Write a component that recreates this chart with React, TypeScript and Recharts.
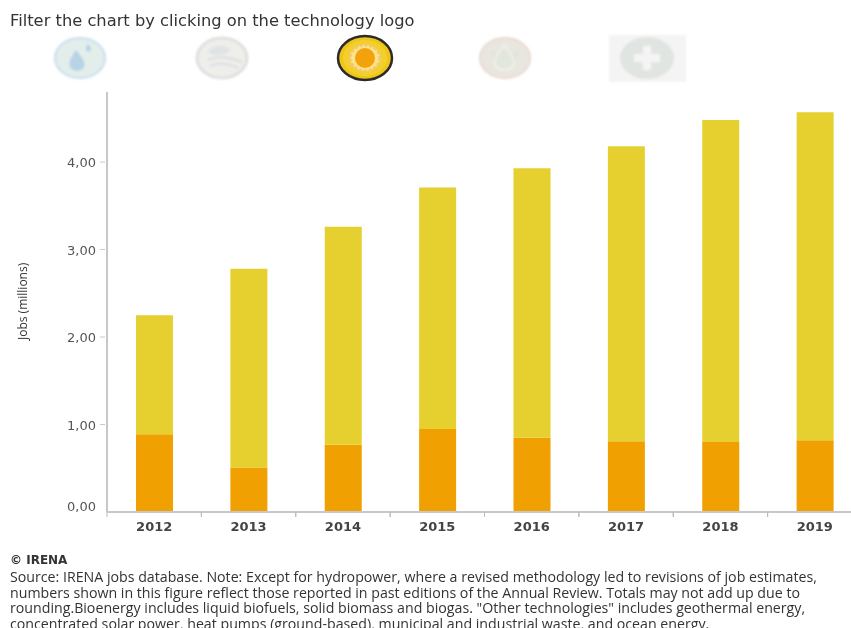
import { BarChart, Bar, XAxis, YAxis } from "recharts"

const years = ["2012", "2013", "2014", "2015", "2016", "2017", "2018", "2019"]
const lowerValues = [0.89, 0.51, 0.77, 0.95, 0.85, 0.81, 0.8, 0.82]
const upperValues = [1.36, 2.27, 2.49, 2.76, 3.08, 3.37, 3.68, 3.75]
const yTicks = [0, 1, 2, 3, 4]

const title = "Filter the chart by clicking on the technology logo"
const credit = "© IRENA"
const sourceLines = [
  "Source: IRENA jobs database. Note: Except for hydropower, where a revised methodology led to revisions of job estimates,",
  "numbers shown in this figure reflect those reported in past editions of the Annual Review. Totals may not add up due to",
  'rounding.Bioenergy includes liquid biofuels, solid biomass and biogas. "Other technologies" includes geothermal energy,',
  "concentrated solar power, heat pumps (ground-based), municipal and industrial waste, and ocean energy.",
]

const data = years.map((year, i) => ({ year, lower: lowerValues[i], upper: upperValues[i] }))

const plotWidth = 755
const halfBand = plotWidth / years.length / 2
const softText = "blur(0.35px)"

function YearTick({ x, y, payload }: any) {
  return (
    <g>
      <line x1={x - halfBand} x2={x - halfBand} y1={y - 8} y2={y - 3} stroke="#bbb" />
      <line x1={x + halfBand} x2={x + halfBand} y1={y - 8} y2={y - 3} stroke="#bbb" />
      <text x={x} y={y + 11} textAnchor="middle" fontFamily="DejaVu Sans" fontWeight="bold" fontSize={13} fill="#444" style={{ filter: softText }}>
        {payload.value}
      </text>
    </g>
  )
}

// the zero label sits a little above the baseline and has no tick mark
function JobsTick({ x, y, payload }: any) {
  const zero = payload.value === 0
  return (
    <g>
      {!zero && <line x1={x + 3} x2={x + 8} y1={y} y2={y} stroke="#c8c8c8" />}
      <text x={x - 1} y={zero ? y - 1 : y + 5} textAnchor="end" fontFamily="DejaVu Sans" fontSize={13} fill="#555" style={{ filter: softText }}>
        {payload.value.toFixed(2).replace(".", ",")}
      </text>
    </g>
  )
}

function Logos() {
  return (
    <svg width={700} height={90} style={{ position: "absolute", left: 0, top: 0 }}>
      <g style={{ filter: "blur(0.8px)" }}>
        {/* hydro */}
        <ellipse cx={80} cy={58} rx={25} ry={20} fill="#e3eeea" stroke="#cfe2ef" strokeWidth={2.5} />
        <path d="M76 50 C71 58 68 62 70 67 C73 72 81 72 84 67 C86 62 82 58 76 50Z" fill="#b7d3e6" />
        <path d="M88 44 C86 47 85 49 87 51 C89 52 91 51 91 49 C91 48 90 46 88 44Z" fill="#b7d3e6" />
        {/* wind */}
        <ellipse cx={222} cy={58} rx={25} ry={20} fill="#eeeeea" stroke="#e0e0e0" strokeWidth={3} />
        <path d="M208 52 C214 44 224 44 230 50 C224 56 214 57 208 52Z" fill="#dfe3e6" />
        <path d="M208 60 C218 55 232 58 242 62 M210 66 C220 62 230 64 238 68" fill="none" stroke="#dcdfe2" strokeWidth={2} />
        {/* bioenergy */}
        <ellipse cx={505} cy={58} rx={25} ry={20} fill="#e9e6df" stroke="#eaddd6" strokeWidth={2.5} />
        <path d="M490 50 C493 60 497 67 505 69 C513 67 517 60 520 50 C515 52 512 54 505 60 C498 54 495 52 490 50Z" fill="#dfe6da" />
        <path d="M504 45 C497 54 493 60 496 66 C499 71 509 71 513 66 C516 60 511 54 504 45Z" fill="#e2e7dc" stroke="#f3f3ee" strokeWidth={1.5} />
        {/* other technologies */}
        <rect x={609} y={35} width={77} height={47} fill="#f4f4f4" />
        <ellipse cx={647} cy={58} rx={27} ry={21} fill="#e1e5e1" />
        <rect x={643} y={46} width={8} height={24} fill="#f4f4f4" />
        <rect x={634} y={54} width={26} height={8} fill="#f4f4f4" />
      </g>
      {/* solar, the selected one */}
      <g style={{ filter: "blur(0.4px)" }}>
        <ellipse cx={365} cy={58} rx={27} ry={22} fill="#f0c419" stroke="#2b2b2b" strokeWidth={2.5} />
        <ellipse cx={365} cy={58} rx={22} ry={18} fill="#f2d02c" />
        <ellipse cx={365} cy={58} rx={15} ry={13} fill="#fbe38a" stroke="#f6c56e" strokeWidth={3} strokeDasharray="3 2" />
        <ellipse cx={365} cy={58} rx={10} ry={10} fill="#f3a20e" />
      </g>
    </svg>
  )
}

export default function App() {
  return (
    <div style={{ position: "absolute", left: 0, top: 0, width: 851, height: 628, overflow: "hidden", background: "#fff" }}>
      <BarChart
        width={870}
        height={628}
        data={data}
        barCategoryGap={0}
        margin={{ top: 92, right: 8, bottom: 86, left: 0 }}
      >
        <XAxis
          dataKey="year"
          height={30}
          axisLine={{ stroke: "#c8c8c8", strokeWidth: 2 }}
          tickLine={false}
          tick={<YearTick />}
          interval={0}
        />
        <YAxis
          width={107}
          domain={[0, 4.8]}
          ticks={yTicks}
          axisLine={{ stroke: "#c8c8c8", strokeWidth: 2 }}
          tickLine={false}
          tickSize={8}
          tick={<JobsTick />}
          label={{
            value: "Jobs (millions)",
            angle: -90,
            position: "insideLeft",
            dx: 18,
            dy: 38,
            style: { fontFamily: "Open Sans", fontSize: 12, fill: "#333", filter: softText },
          }}
        />
        <Bar dataKey="lower" stackId="jobs" fill="#f0a000" barSize={37} isAnimationActive={false} />
        <Bar dataKey="upper" stackId="jobs" fill="#e6d02f" barSize={37} isAnimationActive={false} />
      </BarChart>

      <Logos />

      <div style={{ position: "absolute", left: 10, top: 11, fontFamily: "DejaVu Sans", fontSize: 16.3, color: "#333", whiteSpace: "nowrap", filter: softText }}>
        {title}
      </div>
      <div style={{ position: "absolute", left: 10, top: 553, fontFamily: "DejaVu Sans", fontWeight: "bold", fontSize: 12, color: "#333", whiteSpace: "nowrap", filter: softText }}>
        {credit}
      </div>
      <div style={{ position: "absolute", left: 10, top: 569, fontFamily: "Open Sans", fontSize: 14.2, lineHeight: "15.5px", color: "#333", whiteSpace: "nowrap", filter: softText }}>
        {sourceLines.map((line, i) => (
          <div key={i}>{line}</div>
        ))}
      </div>
    </div>
  )
}
